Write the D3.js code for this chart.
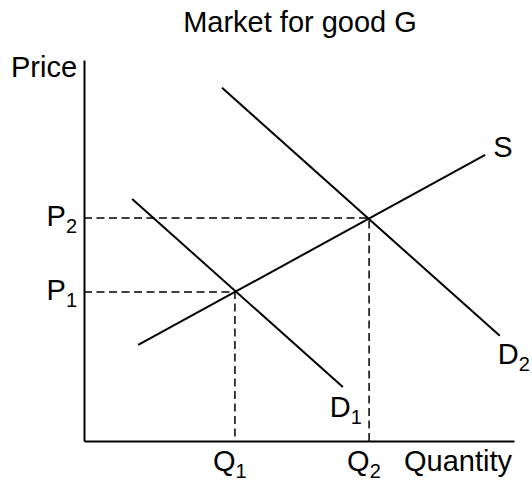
<!DOCTYPE html>
<html>
<head>
<meta charset="utf-8">
<script src="https://cdn.jsdelivr.net/npm/d3@7"></script>
<style>
  body { margin: 0; background: #fff; }
  text { font-family: "Liberation Sans", Arial, sans-serif; fill: #000; }
  .axis path { stroke: #000; stroke-width: 2; }
</style>
</head>
<body>
<svg id="chart" width="532" height="482"></svg>
<script>
// curves as [quantity, price] end points, in arbitrary 0-10 units
var supply = [[1.26, 2.52], [9.33, 7.51]],
    demand1 = [[1.12, 6.35], [6.02, 1.42]],
    demand2 = [[3.21, 9.27], [9.67, 2.76]];

// equilibria
var equilibria = [
  {q: 3.51, p: 3.91, qLabel: "1", pLabel: "1"},
  {q: 6.63, p: 5.85, qLabel: "2", pLabel: "2"}
];

var curveLabels = [
  {curve: supply, main: "S", sub: "", dx: 8, dy: 2},
  {curve: demand1, main: "D", sub: "1", dx: -13, dy: 30},
  {curve: demand2, main: "D", sub: "2", dx: -2, dy: 28}
];

var svg = d3.select("#chart"),
    margin = {top: 60, right: 18, bottom: 41, left: 84},
    width = +svg.attr("width") - margin.left - margin.right,
    height = +svg.attr("height") - margin.top - margin.bottom;

var x = d3.scaleLinear().domain([0, 10]).range([margin.left, margin.left + width]),
    y = d3.scaleLinear().domain([0, 10]).range([margin.top + height, margin.top]);

var line = d3.line()
    .x(function(d) { return x(d[0]); })
    .y(function(d) { return y(d[1]); });

// title
svg.append("text")
    .attr("x", 300)
    .attr("y", 32)
    .attr("text-anchor", "middle")
    .style("font-size", "29px")
    .text("Market for good G");

// dashed guides
equilibria.forEach(function(e) {
  svg.append("path")
      .attr("d", line([[0, e.p], [e.q, e.p], [e.q, 0]]))
      .attr("fill", "none")
      .attr("stroke", "#000")
      .attr("stroke-width", 1.5)
      .attr("stroke-dasharray", "8,4.5");
});

// axes
svg.append("g")
    .attr("class", "axis")
    .attr("transform", "translate(" + margin.left + ",0)")
    .call(d3.axisLeft(y).tickValues([]).tickSizeOuter(0));

svg.append("g")
    .attr("class", "axis")
    .attr("transform", "translate(0," + (margin.top + height) + ")")
    .call(d3.axisBottom(x).tickValues([]).tickSizeOuter(0));

svg.append("text")
    .attr("x", 11)
    .attr("y", 77)
    .style("font-size", "29px")
    .text("Price");

svg.append("text")
    .attr("x", 404)
    .attr("y", 471)
    .style("font-size", "29px")
    .text("Quantity");

// curves
[supply, demand1, demand2].forEach(function(c) {
  svg.append("path")
      .attr("d", line(c))
      .attr("fill", "none")
      .attr("stroke", "#000")
      .attr("stroke-width", 2);
});

function subLabel(px, py, anchor, main, sub) {
  var t = svg.append("text")
      .attr("x", px)
      .attr("y", py)
      .attr("text-anchor", anchor)
      .style("font-size", "29px");
  t.append("tspan").text(main);
  if (sub) {
    t.append("tspan")
        .attr("dy", 7)
        .style("font-size", "20px")
        .text(sub);
  }
}

equilibria.forEach(function(e) {
  subLabel(77, y(e.p) + 8, "end", "P", e.pLabel);
  subLabel(x(e.q) - 22, 471, "start", "Q", e.qLabel);
});

curveLabels.forEach(function(l) {
  var end = l.curve[l.curve.length - 1];
  subLabel(x(end[0]) + l.dx, y(end[1]) + l.dy, "start", l.main, l.sub);
});
</script>
</body>
</html>
